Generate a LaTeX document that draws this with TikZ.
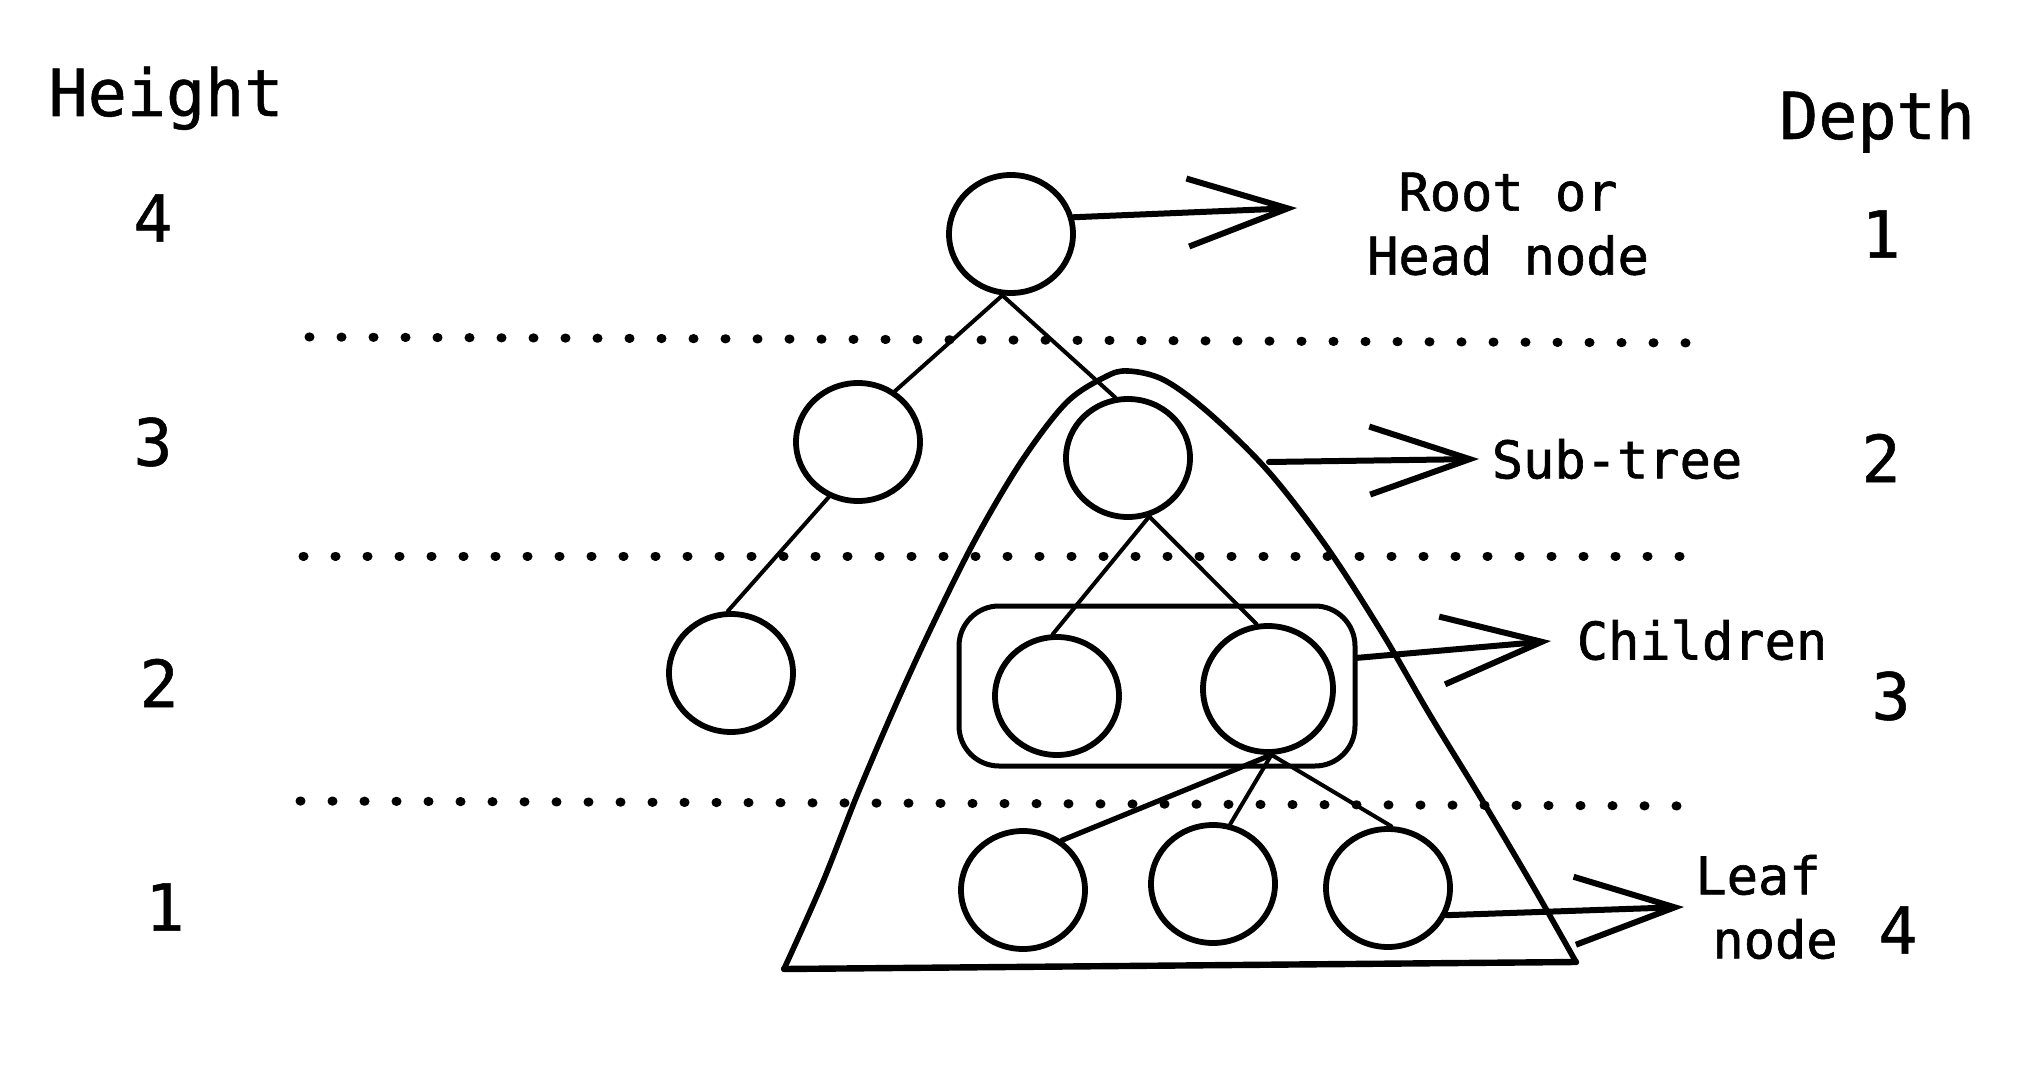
\documentclass[tikz,border=0pt]{standalone}
\usepackage{fontspec}
\newfontfamily\cfont[FakeBold=0.8]{DejaVu Sans Mono}
\newfontfamily\cfontb[FakeBold=1.2]{DejaVu Sans Mono}
\usetikzlibrary{shapes.geometric,arrows.meta}
\begin{document}
\begin{tikzpicture}[x=0.5pt,y=-0.5pt,
  tnode/.style={ellipse, draw, line width=2.9pt, minimum width=62pt, minimum height=59pt, inner sep=0pt},
  edge/.style={line width=2pt, line cap=round},
  big/.style={font=\cfont\fontsize{32.5pt}{39pt}\selectfont, inner sep=0pt},
  small/.style={font=\cfontb\fontsize{26pt}{32pt}\selectfont, inner sep=0pt, align=center},
  sepline/.style={line width=4.5pt, line cap=round, dash pattern=on 0.5pt off 15.5pt},
  arr/.style={line width=3pt, line cap=round, -{Straight Barb[length=50pt,width=34pt,line width=3pt]}}
]
\useasboundingbox (0,0) rectangle (2038,1090);

% labels left
\node[big, anchor=base] (hgt) at (166,116) {Height};
\node[big] (h4) at (153,218) {4};
\node[big] (h3) at (153,442) {3};
\node[big] (h2) at (159,683) {2};
\node[big] (h1) at (165,907) {1};
% labels right
\node[big, anchor=base] (dep) at (1877,139) {Depth};
\node[big] (d1) at (1881,234) {1};
\node[big] (d2) at (1881,458) {2};
\node[big] (d3) at (1891,696) {3};
\node[big] (d4) at (1898,930) {4};

% separators
\coordinate (s1a) at (309,337); \coordinate (s1b) at (1703,343);
\coordinate (s2a) at (303,556); \coordinate (s2b) at (1694,556);
\coordinate (s3a) at (300,801); \coordinate (s3b) at (1690,806);
\draw[sepline] (s1a) -- (s1b);
\draw[sepline] (s2a) -- (s2b);
\draw[sepline] (s3a) -- (s3b);

% subtree outline
\draw[line width=2.8pt, line join=round, line cap=round] plot[smooth, tension=0.55] coordinates {(784,969) (822,884) (858,793) (897,702) (933,624) (975,540) (1021,462) (1066,403) (1105,377) (1128,371) (1164,380) (1209,413) (1268,471) (1326,546) (1381,631) (1430,715) (1482,800) (1534,888) (1576,962)};
\draw[line width=3.2pt, line cap=round] (784,969) -- (1576,962);

% nodes
\node[tnode] (root) at (1011,234) {};
\node[tnode] (l2l) at (858,442) {};
\node[tnode] (l2r) at (1128,458) {};
\node[tnode] (fl) at (731,673) {};
\node[tnode] (cl) at (1057,696) {};
\node[tnode, minimum width=65pt, minimum height=63pt] (cr) at (1268,689) {};
\node[tnode] (lf1) at (1023,890) {};
\node[tnode] (lf2) at (1213,884) {};
\node[tnode] (lf3) at (1388,888) {};

% children box
\node[draw, line width=2.5pt, rounded corners=20pt, minimum width=198pt, minimum height=80pt] (box) at (1157,686) {};

% edges
\draw[edge] (root.-98) -- (l2l.54);
\draw[edge] (root.-98) -- (l2r.102);
\draw[edge] (l2l.-118) -- (fl.93);
\draw[edge] (l2r.-70) -- (cl.94);
\draw[edge] (l2r.-70) -- (cr.100);
\draw[edge, line width=2.6pt] (cr.-87) -- (lf1.52);
\draw[edge] (cr.-87) -- (lf2.74);
\draw[edge] (cr.-87) -- (lf3.87);

% arrows and labels
\coordinate (rootTip) at (1297,208);
\coordinate (stFrom) at (1269,462);
\coordinate (stTip) at (1479,459);
\coordinate (chTip) at (1551,641);
\coordinate (lfTip) at (1684,907);
\draw[arr] (root.15) -- (rootTip);
\draw[arr] (stFrom) -- (stTip);
\draw[arr] (box.8) -- (chTip);
\draw[arr] (lf3.-25) -- (lfTip);

\node[small] (rootlbl) at (1508,224) {Root or\\Head node};
\node[small] (stlbl) at (1617,459) {Sub-tree};
\node[small] (chlbl) at (1702,640) {Children};
\node[small] (leaflbl) at (1758,875) {Leaf};
\node[small] (nodelbl) at (1775,939) {node};
\end{tikzpicture}
\end{document}
